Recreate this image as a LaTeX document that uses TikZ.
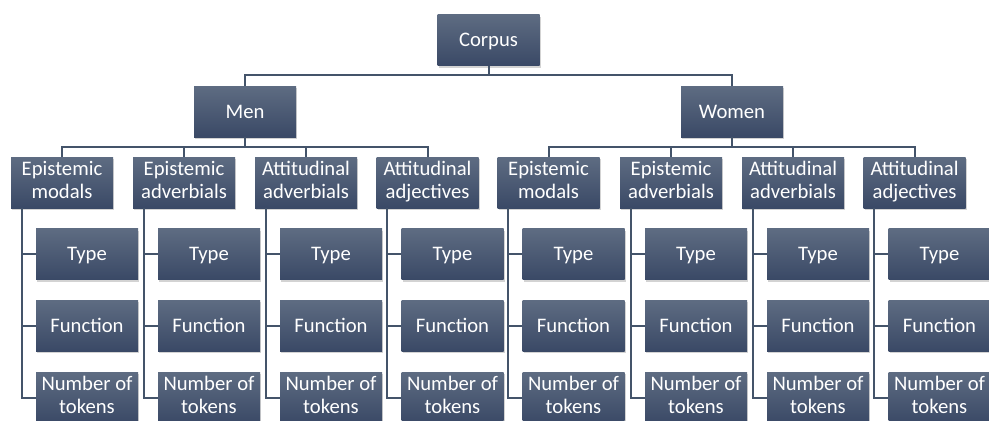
\documentclass[tikz,border=0pt]{standalone}
\usepackage{fontspec}
\setmainfont{Carlito}
\usetikzlibrary{shadows}
\definecolor{boxtop}{HTML}{5E6C82}
\definecolor{boxbot}{HTML}{3A4966}
\definecolor{linecol}{HTML}{44546A}

\begin{document}
\begin{tikzpicture}[x=0.75pt,y=-0.75pt,
		box/.style={rectangle, minimum width=76.5pt, minimum height=38.25pt, inner sep=0pt,
			top color=boxtop, bottom color=boxbot, text=white, align=center,
			font=\fontsize{15.5}{17.5}\selectfont,
			execute at begin node={\rule[-3.75pt]{0pt}{17.5pt}},
			execute at end node={\rule[-3.75pt]{0pt}{17.5pt}},
			drop shadow={shadow xshift=1pt, shadow yshift=-1.8pt, opacity=.35}},
		conn/.style={draw=linecol, line width=1.5pt}]
			\useasboundingbox (0, 0) rectangle (989, 421);
			\clip (0, 0) rectangle (989, 421);
			% top levels
			\node[box] (corpus) at (488.5, 40) {Corpus};
			\node[box] (men) at (245, 111.5) {Men};
			\node[box] (women) at (732, 111.5) {Women};
			\coordinate (topbar) at (488.5, 75);
			\coordinate (menbar) at (245, 147);
			\coordinate (womenbar) at (732, 147);
			% categories
			\node[box] (mEm) at (62, 182.5) {Epistemic\\modals};
			\node[box] (mEa) at (184, 182.5) {Epistemic\\adverbials};
			\node[box] (mAv) at (306, 182.5) {Attitudinal\\adverbials};
			\node[box] (mAj) at (427.5, 182.5) {Attitudinal\\adjectives};
			\node[box] (wEm) at (548.5, 182.5) {Epistemic\\modals};
			\node[box] (wEa) at (671, 182.5) {Epistemic\\adverbials};
			\node[box] (wAv) at (793, 182.5) {Attitudinal\\adverbials};
			\node[box] (wAj) at (914.5, 182.5) {Attitudinal\\adjectives};
			% men leaves
			\node[box] (mEmT) at (87, 254) {Type};
			\node[box] (mEmF) at (87, 325.5) {Function};
			\node[box] (mEmN) at (87, 397.5) {Number of\\tokens};
			\node[box] (mEaT) at (209, 254) {Type};
			\node[box] (mEaF) at (209, 325.5) {Function};
			\node[box] (mEaN) at (209, 397.5) {Number of\\tokens};
			\node[box] (mAvT) at (331, 254) {Type};
			\node[box] (mAvF) at (331, 325.5) {Function};
			\node[box] (mAvN) at (331, 397.5) {Number of\\tokens};
			\node[box] (mAjT) at (452.5, 254) {Type};
			\node[box] (mAjF) at (452.5, 325.5) {Function};
			\node[box] (mAjN) at (452.5, 397.5) {Number of\\tokens};
			% women leaves
			\node[box] (wEmT) at (573.5, 254) {Type};
			\node[box] (wEmF) at (573.5, 325.5) {Function};
			\node[box] (wEmN) at (573.5, 397.5) {Number of\\tokens};
			\node[box] (wEaT) at (696, 254) {Type};
			\node[box] (wEaF) at (696, 325.5) {Function};
			\node[box] (wEaN) at (696, 397.5) {Number of\\tokens};
			\node[box] (wAvT) at (818, 254) {Type};
			\node[box] (wAvF) at (818, 325.5) {Function};
			\node[box] (wAvN) at (818, 397.5) {Number of\\tokens};
			\node[box] (wAjT) at (939.5, 254) {Type};
			\node[box] (wAjF) at (939.5, 325.5) {Function};
			\node[box] (wAjN) at (939.5, 397.5) {Number of\\tokens};
			% connectors
			\draw[conn] (corpus) -- (topbar) -| (men);
			\draw[conn] (corpus) -- (topbar) -| (women);
			\draw[conn] (men) -- (menbar) -| (mEm);
			\draw[conn] (men) -- (menbar) -| (mEa);
			\draw[conn] (men) -- (menbar) -| (mAv);
			\draw[conn] (men) -- (menbar) -| (mAj);
			\draw[conn] (women) -- (womenbar) -| (wEm);
			\draw[conn] (women) -- (womenbar) -| (wEa);
			\draw[conn] (women) -- (womenbar) -| (wAv);
			\draw[conn] (women) -- (womenbar) -| (wAj);
			\draw[conn] ([xshift=8.25pt]mEm.south west) |- (mEmT) ([xshift=8.25pt]mEm.south west) |- (mEmF) ([xshift=8.25pt]mEm.south west) |- (mEmN);
			\draw[conn] ([xshift=8.25pt]mEa.south west) |- (mEaT) ([xshift=8.25pt]mEa.south west) |- (mEaF) ([xshift=8.25pt]mEa.south west) |- (mEaN);
			\draw[conn] ([xshift=8.25pt]mAv.south west) |- (mAvT) ([xshift=8.25pt]mAv.south west) |- (mAvF) ([xshift=8.25pt]mAv.south west) |- (mAvN);
			\draw[conn] ([xshift=8.25pt]mAj.south west) |- (mAjT) ([xshift=8.25pt]mAj.south west) |- (mAjF) ([xshift=8.25pt]mAj.south west) |- (mAjN);
			\draw[conn] ([xshift=8.25pt]wEm.south west) |- (wEmT) ([xshift=8.25pt]wEm.south west) |- (wEmF) ([xshift=8.25pt]wEm.south west) |- (wEmN);
			\draw[conn] ([xshift=8.25pt]wEa.south west) |- (wEaT) ([xshift=8.25pt]wEa.south west) |- (wEaF) ([xshift=8.25pt]wEa.south west) |- (wEaN);
			\draw[conn] ([xshift=8.25pt]wAv.south west) |- (wAvT) ([xshift=8.25pt]wAv.south west) |- (wAvF) ([xshift=8.25pt]wAv.south west) |- (wAvN);
			\draw[conn] ([xshift=8.25pt]wAj.south west) |- (wAjT) ([xshift=8.25pt]wAj.south west) |- (wAjF) ([xshift=8.25pt]wAj.south west) |- (wAjN);
		\end{tikzpicture}
\end{document}
